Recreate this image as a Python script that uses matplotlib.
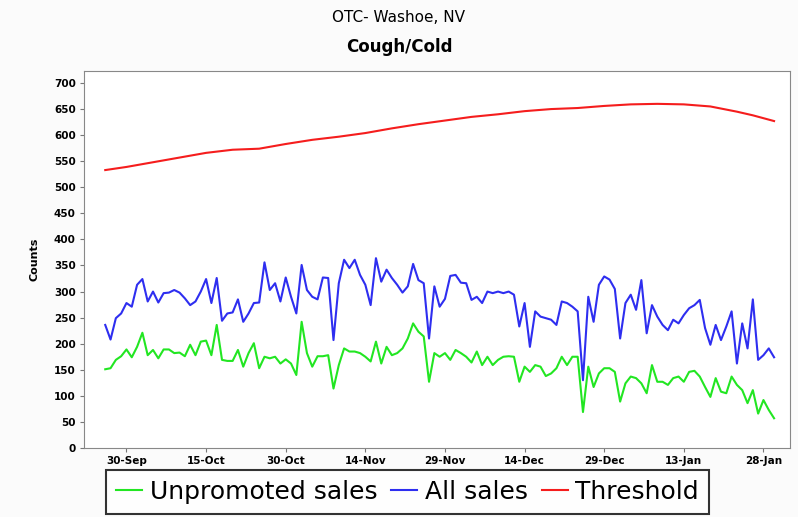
import datetime as dt
import matplotlib
matplotlib.use("Agg")
import matplotlib.pyplot as plt
import matplotlib.dates as mdates

start = dt.date(2011, 9, 26)

all_sales = [236, 208, 249, 258, 278, 271, 313, 324, 281, 300,
             279, 297, 298, 303, 298, 287, 274, 281, 300, 324,
             278, 326, 244, 258, 260, 285, 242, 258, 278, 279,
             356, 303, 316, 281, 327, 290, 258, 351, 303, 290,
             285, 327, 326, 207, 316, 361, 345, 361, 332, 313,
             274, 364, 319, 342, 326, 313, 298, 310, 353, 322,
             316, 210, 310, 271, 286, 330, 332, 317, 316, 284,
             290, 278, 300, 297, 300, 297, 300, 294, 233, 278,
             194, 262, 252, 249, 246, 236, 281, 278, 271, 262,
             130, 290, 242, 313, 329, 323, 305, 210, 278, 294,
             265, 322, 220, 274, 252, 236, 226, 246, 239, 255,
             268, 274, 284, 230, 198, 236, 207, 233, 262, 162,
             239, 191, 285, 169, 178, 191, 174]

unpromoted = [151, 153, 169, 176, 189, 174, 194, 221, 178, 188,
              172, 189, 189, 182, 183, 176, 198, 178, 204, 206,
              178, 236, 169, 167, 167, 188, 156, 182, 201, 153,
              175, 172, 175, 162, 170, 162, 140, 242, 182, 156,
              176, 176, 178, 114, 159, 191, 185, 185, 182, 175,
              166, 204, 162, 194, 178, 182, 191, 210, 239, 223,
              214, 127, 182, 175, 182, 169, 188, 182, 175, 164,
              185, 159, 175, 159, 169, 175, 176, 175, 127, 156,
              146, 159, 156, 138, 143, 153, 175, 159, 175, 175,
              69, 156, 117, 143, 153, 153, 146, 89, 124, 137,
              134, 124, 105, 159, 127, 127, 121, 134, 137, 127,
              146, 148, 137, 117, 98, 134, 108, 105, 137, 121,
              111, 86, 111, 66, 92, 73, 57]

thr_days = [0, 4, 9, 14, 19, 24, 29, 34, 39, 44, 49, 54, 59, 64, 69,
            74, 79, 84, 89, 94, 99, 104, 109, 114, 119, 122, 126]
threshold = [533, 539, 548, 557, 566, 572, 574, 583, 591, 597, 604, 613,
             621, 628, 635, 640, 646, 650, 652, 656, 659, 660, 659, 655,
             645, 638, 627]

tick_dates = [dt.date(2011, 9, 30), dt.date(2011, 10, 15), dt.date(2011, 10, 30),
              dt.date(2011, 11, 14), dt.date(2011, 11, 29), dt.date(2011, 12, 14),
              dt.date(2011, 12, 29), dt.date(2012, 1, 13), dt.date(2012, 1, 28)]

dates = [start + dt.timedelta(days=i) for i in range(len(all_sales))]
thr_dates = [start + dt.timedelta(days=d) for d in thr_days]

fig = plt.figure(figsize=(7.98, 5.17), dpi=100)
fig.patch.set_facecolor("#fbfbfb")
ax = fig.add_axes([84 / 798, 1 - 448 / 517, (790 - 84) / 798, (448 - 71) / 517])

l1, = ax.plot(dates, unpromoted, color="#22e622", lw=1.5)
l2, = ax.plot(dates, all_sales, color="#2e2ef0", lw=1.5)
l3, = ax.plot(thr_dates, threshold, color="#f51d1d", lw=1.5)

ax.set_ylim(0, 723)
ax.set_xlim(start - dt.timedelta(days=4.8), start + dt.timedelta(days=129.9))
ax.set_yticks(range(0, 701, 50))
ax.set_xticks(tick_dates)
ax.xaxis.set_major_formatter(mdates.DateFormatter("%d-%b"))
ax.tick_params(labelsize=7.5, length=3, color="#777777", pad=3)
for lab in ax.get_xticklabels() + ax.get_yticklabels():
    lab.set_fontweight("bold")
for s in ax.spines.values():
    s.set_color("#888888")
ax.set_ylabel("Counts", fontsize=8, fontweight="bold", labelpad=10)

fig.text(0.5, 1 - 18 / 517, "OTC- Washoe, NV", ha="center", va="center", fontsize=11)
fig.text(0.5, 1 - 47 / 517, "Cough/Cold", ha="center", va="center",
         fontsize=12, fontweight="bold")

leg = fig.legend([l1, l2, l3], ["Unpromoted sales", "All sales", "Threshold"],
                 loc="upper left", bbox_to_anchor=(106 / 798, 1 - 470 / 517),
                 ncol=3, fontsize=18, frameon=True, fancybox=False,
                 handlelength=1.05, handletextpad=0.3, columnspacing=0.55,
                 borderpad=0.4, borderaxespad=0)
leg.get_frame().set_edgecolor("black")
leg.get_frame().set_linewidth(1.5)

fig.savefig("out.png", dpi=100, facecolor=fig.get_facecolor())
